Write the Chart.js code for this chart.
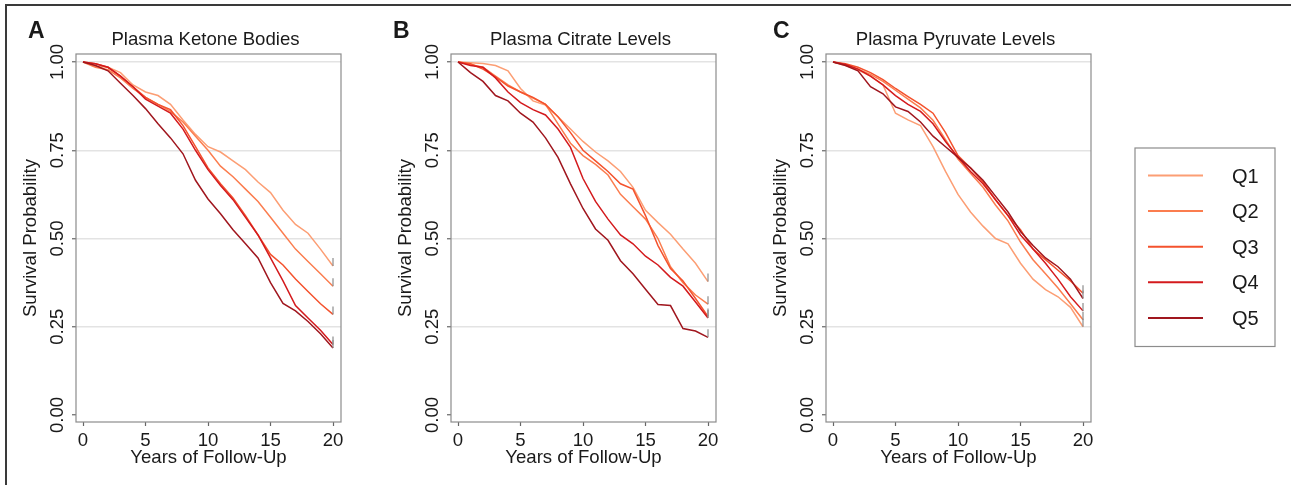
<!DOCTYPE html>
<html>
<head>
<meta charset="utf-8">
<script src="https://cdn.jsdelivr.net/npm/chart.js@4.4.1/dist/chart.umd.min.js"></script>
<style>
html, body { margin: 0; padding: 0; background: #fff; }
#wrap { position: relative; width: 1291px; height: 485px; overflow: hidden; }
#wrap canvas { position: absolute; top: 0; }
#frame { position: absolute; left: 5px; top: 4px; width: 1300px; height: 479px; border: 2px solid #3a3a3a; pointer-events: none; }
</style>
</head>
<body>
<div id="wrap">
  <canvas id="pA" width="360" height="485" style="left:0px"></canvas>
  <canvas id="pB" width="360" height="485" style="left:375px"></canvas>
  <canvas id="pC" width="541" height="485" style="left:750px"></canvas>
  <div id="frame"></div>
</div>
<script>
// -----------------------------
// DATA (survival probability at each year of follow-up)
// -----------------------------
const years = [0, 1, 2, 3, 4, 5, 6, 7, 8, 9, 10, 11, 12, 13, 14, 15, 16, 17, 18, 19, 20];
const quintiles = ["Q1", "Q2", "Q3", "Q4", "Q5"];
const xTicks = [0, 5, 10, 15, 20];
const yTicks = [0, 0.25, 0.5, 0.75, 1];

// Plasma ketone bodies
const ketoneQ1 = [1, 0.988, 0.985, 0.97, 0.935, 0.915, 0.905, 0.88, 0.836, 0.795, 0.76, 0.745, 0.72, 0.695, 0.66, 0.63, 0.58, 0.54, 0.515, 0.47, 0.422];
const ketoneQ2 = [1, 0.985, 0.978, 0.955, 0.925, 0.9, 0.88, 0.86, 0.83, 0.79, 0.75, 0.705, 0.675, 0.64, 0.605, 0.56, 0.515, 0.47, 0.435, 0.4, 0.365];
const ketoneQ3 = [1, 0.995, 0.985, 0.96, 0.93, 0.9, 0.88, 0.865, 0.82, 0.76, 0.7, 0.655, 0.615, 0.565, 0.51, 0.455, 0.425, 0.385, 0.35, 0.315, 0.285];
const ketoneQ4 = [1, 0.995, 0.985, 0.96, 0.93, 0.895, 0.875, 0.855, 0.81, 0.75, 0.695, 0.65, 0.61, 0.56, 0.51, 0.445, 0.38, 0.31, 0.275, 0.24, 0.2];
const ketoneQ5 = [1, 0.99, 0.975, 0.94, 0.905, 0.868, 0.825, 0.785, 0.74, 0.665, 0.612, 0.57, 0.525, 0.485, 0.445, 0.375, 0.316, 0.295, 0.265, 0.23, 0.19];

// Plasma citrate levels
const citrateQ1 = [1, 0.998, 0.996, 0.99, 0.975, 0.925, 0.89, 0.878, 0.845, 0.81, 0.775, 0.745, 0.72, 0.69, 0.645, 0.58, 0.545, 0.512, 0.47, 0.43, 0.378];
const citrateQ2 = [1, 0.993, 0.985, 0.96, 0.935, 0.915, 0.898, 0.88, 0.825, 0.77, 0.735, 0.71, 0.68, 0.625, 0.59, 0.555, 0.5, 0.42, 0.375, 0.34, 0.314];
const citrateQ3 = [1, 0.995, 0.98, 0.958, 0.932, 0.915, 0.9, 0.88, 0.845, 0.8, 0.75, 0.72, 0.69, 0.655, 0.64, 0.565, 0.48, 0.415, 0.38, 0.33, 0.279];
const citrateQ4 = [1, 0.99, 0.985, 0.955, 0.915, 0.885, 0.865, 0.85, 0.81, 0.758, 0.67, 0.605, 0.555, 0.51, 0.485, 0.45, 0.425, 0.39, 0.365, 0.32, 0.275];
const citrateQ5 = [1, 0.97, 0.945, 0.905, 0.89, 0.855, 0.83, 0.785, 0.73, 0.655, 0.585, 0.527, 0.495, 0.437, 0.4, 0.356, 0.313, 0.31, 0.245, 0.238, 0.22];

// Plasma pyruvate levels
const pyruvateQ1 = [1, 0.99, 0.978, 0.96, 0.935, 0.855, 0.836, 0.82, 0.76, 0.69, 0.625, 0.575, 0.535, 0.5, 0.485, 0.43, 0.385, 0.355, 0.335, 0.305, 0.25];
const pyruvateQ2 = [1, 0.993, 0.98, 0.965, 0.945, 0.92, 0.895, 0.87, 0.835, 0.78, 0.725, 0.685, 0.645, 0.595, 0.55, 0.49, 0.44, 0.4, 0.36, 0.315, 0.27];
const pyruvateQ3 = [1, 0.995, 0.985, 0.97, 0.95, 0.925, 0.902, 0.88, 0.855, 0.8, 0.735, 0.7, 0.66, 0.61, 0.565, 0.525, 0.47, 0.44, 0.41, 0.38, 0.345];
const pyruvateQ4 = [1, 0.993, 0.98, 0.96, 0.935, 0.905, 0.88, 0.86, 0.825, 0.775, 0.73, 0.69, 0.655, 0.61, 0.565, 0.51, 0.47, 0.43, 0.385, 0.335, 0.295];
const pyruvateQ5 = [1, 0.99, 0.975, 0.93, 0.91, 0.873, 0.86, 0.83, 0.79, 0.76, 0.73, 0.7, 0.665, 0.62, 0.575, 0.52, 0.48, 0.445, 0.42, 0.385, 0.33];

const colores = ["#fc9e74", "#fb7d4f", "#f4522d", "#d41a1d", "#a0161e"];
const FONT = '"Liberation Sans", Arial, sans-serif';
const FS = 18.6;

// -----------------------------
// DECORACION: caja, titulos, ticks rotados, marcas de censura, leyenda
// -----------------------------
const panelDecor = {
    id: 'panelDecor',
    afterDraw(chart, args, o) {
        const ctx = chart.ctx;
        const a = chart.chartArea;
        const ys = chart.scales.y;
        ctx.save();

        ctx.strokeStyle = '#8c8c8c';
        ctx.lineWidth = 1.2;
        ctx.strokeRect(a.left, a.top, a.right - a.left, a.bottom - a.top);

        // marcas de censura al final de cada curva
        chart.data.datasets.forEach((ds, i) => {
            const pts = chart.getDatasetMeta(i).data;
            const p = pts[pts.length - 1];
            ctx.strokeStyle = '#8c8c8c';
            ctx.lineWidth = 1.2;
            ctx.beginPath();
            ctx.moveTo(p.x, p.y);
            ctx.lineTo(p.x, p.y - 8);
            ctx.stroke();
        });

        // etiquetas del eje y (giradas)
        ctx.fillStyle = '#1a1a1a';
        ctx.font = FS + 'px ' + FONT;
        yTicks.forEach(v => {
            ctx.save();
            ctx.translate(a.left - 13, ys.getPixelForValue(v));
            ctx.rotate(-Math.PI / 2);
            ctx.textAlign = 'center';
            ctx.textBaseline = 'alphabetic';
            ctx.fillText(v.toFixed(2), 0, 0);
            ctx.restore();
        });

        ctx.textAlign = 'center';
        ctx.textBaseline = 'alphabetic';
        ctx.fillText(o.title, (a.left + a.right) / 2 - 3, 44.5);

        ctx.font = 'bold 23px ' + FONT;
        ctx.textAlign = 'left';
        ctx.fillText(o.letter, o.letterX, 38.3);

        if (o.legend) {
            const L = o.legend;
            ctx.strokeStyle = '#8c8c8c';
            ctx.lineWidth = 1.2;
            ctx.strokeRect(L.x, L.y, L.w, L.h);
            ctx.font = '20px ' + FONT;
            ctx.textBaseline = 'middle';
            chart.data.datasets.forEach((ds, i) => {
                const yy = L.y + 27.5 + i * 35.6;
                ctx.strokeStyle = ds.borderColor;
                ctx.lineWidth = 2;
                ctx.beginPath();
                ctx.moveTo(L.x + 13, yy);
                ctx.lineTo(L.x + 68, yy);
                ctx.stroke();
                ctx.fillStyle = '#1a1a1a';
                ctx.fillText(ds.label, L.x + 97, yy + 1.5);
            });
        }
        ctx.restore();
    }
};

function makePanel(id, series, title, letter, letterX, legend) {
    const canvas = document.getElementById(id);
    return new Chart(canvas, {
        type: 'line',
        data: {
            labels: years,
            datasets: series.map((s, i) => ({
                label: quintiles[i],
                data: years.map((t, k) => ({ x: t, y: s[k] })),
                borderColor: colores[i],
                borderWidth: 1.5,
                pointRadius: 0,
                tension: 0,
                fill: false,
                order: 4 - i
            }))
        },
        options: {
            responsive: false,
            animation: false,
            events: [],
            layout: { padding: { left: 0, top: 54, right: canvas.width - 341, bottom: 16 } },
            plugins: {
                legend: { display: false },
                tooltip: { enabled: false },
                panelDecor: { title: title, letter: letter, letterX: letterX, legend: legend }
            },
            scales: {
                x: {
                    type: 'linear',
                    min: -0.56,
                    max: 20.64,
                    afterBuildTicks: s => { s.ticks = xTicks.map(v => ({ value: v })); },
                    afterFit: s => { s.height = 47; },
                    border: { display: false },
                    grid: { drawOnChartArea: false, tickLength: 4, tickColor: '#666', tickWidth: 1.2 },
                    ticks: { color: '#1a1a1a', font: { size: FS, family: FONT }, padding: 3.5, maxRotation: 0 },
                    title: { display: true, text: 'Years of Follow-Up', color: '#1a1a1a', font: { size: FS, family: FONT }, padding: { top: 0, bottom: 0 } }
                },
                y: {
                    min: -0.0198,
                    max: 1.0227,
                    afterBuildTicks: s => { s.ticks = yTicks.map(v => ({ value: v })); },
                    afterFit: s => { s.width = 76; },
                    border: { display: false },
                    grid: {
                        color: c => (c.tick && c.tick.value === 0) ? 'rgba(0,0,0,0)' : '#e3e3e3',
                        lineWidth: 1.5,
                        tickLength: 4,
                        tickColor: '#666',
                        tickWidth: 1.2
                    },
                    ticks: { display: false },
                    title: { display: true, text: 'Survival Probability', color: '#1a1a1a', font: { size: FS, family: FONT }, padding: { top: 19.6, bottom: 0 } }
                }
            }
        },
        plugins: [panelDecor]
    });
}

makePanel('pA', [ketoneQ1, ketoneQ2, ketoneQ3, ketoneQ4, ketoneQ5], 'Plasma Ketone Bodies', 'A', 28, null);
makePanel('pB', [citrateQ1, citrateQ2, citrateQ3, citrateQ4, citrateQ5], 'Plasma Citrate Levels', 'B', 18, null);
makePanel('pC', [pyruvateQ1, pyruvateQ2, pyruvateQ3, pyruvateQ4, pyruvateQ5], 'Plasma Pyruvate Levels', 'C', 23, { x: 385, y: 148, w: 140, h: 198.5 });
</script>
</body>
</html>
